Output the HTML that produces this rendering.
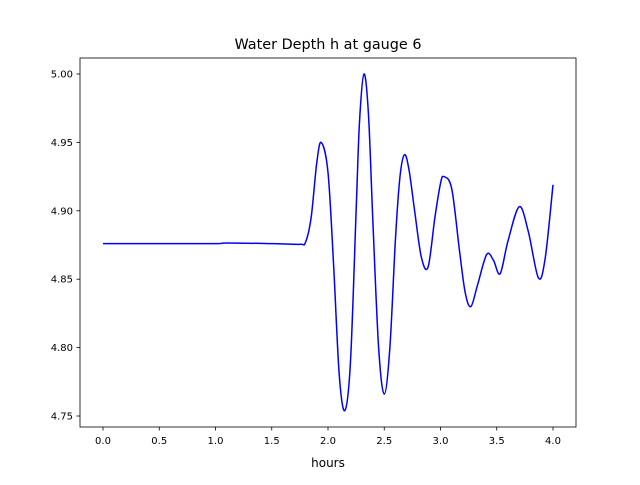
<!DOCTYPE html>
<html><head><meta charset="utf-8"><style>
body{margin:0;background:#fff}
text{font-family:"DejaVu Sans","Liberation Sans",sans-serif;fill:#000}
</style></head><body>
<svg id="chart" width="640" height="480" xmlns="http://www.w3.org/2000/svg">
<rect width="640" height="480" fill="#fff"/>
<text x="328" y="49" font-size="14.4" text-anchor="middle">Water Depth h at gauge 6</text>
<g id="axes"></g>
<text x="328" y="467" font-size="12" text-anchor="middle">hours</text>
</svg>
<script>
const times=[0,0.5,1.0,1.1,1.5,1.75,1.80,1.85,1.90,1.94,2.00,2.05,2.10,2.15,2.20,2.25,2.28,2.32,2.36,2.40,2.45,2.50,2.55,2.60,2.64,2.68,2.72,2.77,2.83,2.89,2.95,3.00,3.03,3.10,3.17,3.22,3.27,3.33,3.41,3.47,3.53,3.60,3.70,3.78,3.87,3.93,4.0];
const depths=[4.876,4.876,4.876,4.8765,4.876,4.8755,4.877,4.895,4.935,4.950,4.928,4.86,4.78,4.754,4.79,4.90,4.965,5.0,4.97,4.89,4.80,4.766,4.80,4.88,4.925,4.941,4.930,4.90,4.866,4.859,4.895,4.920,4.925,4.916,4.870,4.840,4.830,4.846,4.868,4.864,4.854,4.878,4.903,4.885,4.851,4.865,4.919];
const xTicks=[0,0.5,1.0,1.5,2.0,2.5,3.0,3.5,4.0];
const xTickLabels=["0.0","0.5","1.0","1.5","2.0","2.5","3.0","3.5","4.0"];
const yTicks=[4.75,4.80,4.85,4.90,4.95,5.00];
const yTickLabels=["4.75","4.80","4.85","4.90","4.95","5.00"];
const L=80,R=576,T=58,B=427;
const xs=t=>103+t*112.5;
const ys=v=>74+(5.0-v)*1368;
const NS="http://www.w3.org/2000/svg";
const g=document.getElementById('axes');
function mk(tag,attrs){const e=document.createElementNS(NS,tag);for(const k in attrs)e.setAttribute(k,attrs[k]);g.appendChild(e);return e;}
// line
const P=times.map((t,i)=>[xs(t),ys(depths[i])]);
let d=`M${P[0][0]},${P[0][1]}`;
for(let i=0;i<P.length-1;i++){
 const p0=P[Math.max(0,i-1)],p1=P[i],p2=P[i+1],p3=P[Math.min(P.length-1,i+2)];
 const c1=[p1[0]+(p2[0]-p0[0])/6,p1[1]+(p2[1]-p0[1])/6];
 const c2=[p2[0]-(p3[0]-p1[0])/6,p2[1]-(p3[1]-p1[1])/6];
 d+=` C${c1[0]},${c1[1]} ${c2[0]},${c2[1]} ${p2[0]},${p2[1]}`;
}
const line=mk('path',{d:d,fill:'none',stroke:'#0000ff','stroke-width':1.5});


const frame=mk('rect',{x:L,y:T,width:R-L,height:B-T,fill:'none',stroke:'#000','stroke-width':0.8});


xTicks.forEach((t,i)=>{
 const x=xs(t);
 const tk=mk('line',{x1:x,x2:x,y1:B,y2:B+3.5,stroke:'#000','stroke-width':0.8});
 
 
 const lb=mk('text',{x:x,y:B+17,'font-size':10,'text-anchor':'middle'});
 lb.textContent=xTickLabels[i];
 
 
});
yTicks.forEach((v,i)=>{
 const y=ys(v);
 const tk=mk('line',{x1:L-3.5,x2:L,y1:y,y2:y,stroke:'#000','stroke-width':0.8});
 
 
 const lb=mk('text',{x:L-7,y:y+3.5,'font-size':10,'text-anchor':'end'});
 lb.textContent=yTickLabels[i];
 
 
});
</script>
</body></html>
